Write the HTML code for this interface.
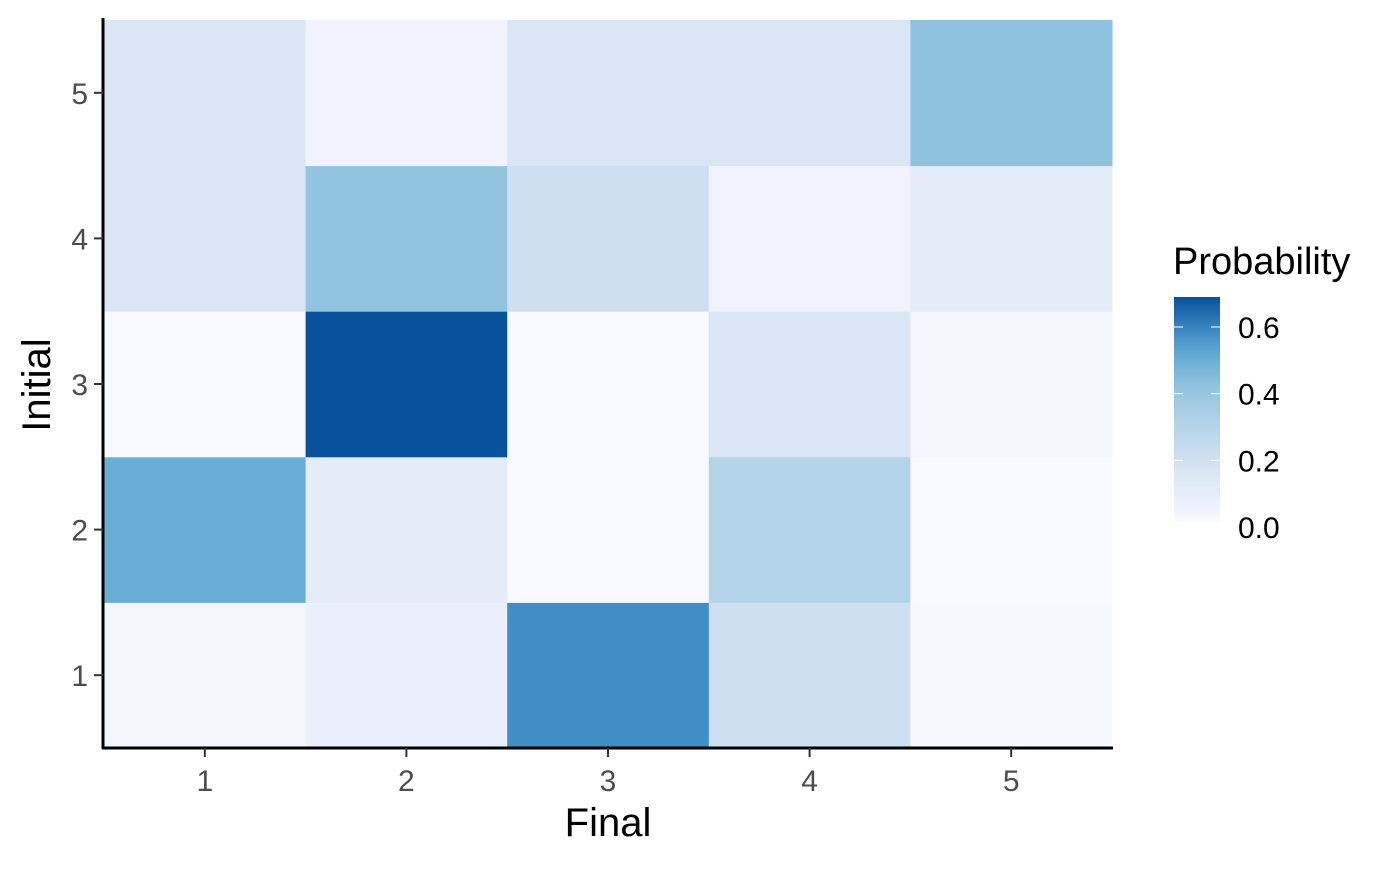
<!DOCTYPE html>
<html><head><meta charset="utf-8"><style>
body{margin:0;background:#fff;font-family:"Liberation Sans",Arial,sans-serif}
svg text{font-family:"Liberation Sans",Arial,sans-serif}
</style></head><body>
<svg id="chart" width="1400" height="865" xmlns="http://www.w3.org/2000/svg">
<defs><linearGradient id="lg" x1="0" y1="1" x2="0" y2="0"></linearGradient></defs>
<g id="cells"></g><g id="axes"></g><g id="legend"></g>
</svg>
<script>
const finalCats=[1,2,3,4,5];
const initialCats=[1,2,3,4,5];
// values[row=initial-1][col=final-1]
const row1=[0.02,0.07,0.58,0.20,0.015];
const row2=[0.50,0.10,0.01,0.30,0.01];
const row3=[0.01,0.69,0.01,0.15,0.02];
const row4=[0.15,0.41,0.20,0.03,0.10];
const row5=[0.15,0.03,0.15,0.15,0.42];
const legendTicks=[0.0,0.2,0.4,0.6];
const values=[row1,row2,row3,row4,row5];
const NS="http://www.w3.org/2000/svg";
const X0=104,X1=1112,Y0=20,Y1=748;
const cw=(X1-X0)/finalCats.length, ch=(Y1-Y0)/initialCats.length;
const xs=c=>X0+(finalCats.indexOf(c)+0.5)*cw;
const ys=r=>Y1-(initialCats.indexOf(r)+0.5)*ch;
const stops=[[0,'#fbfcff'],[0.03,'#f0f3fe'],[0.1,'#e4ecf9'],[0.15,'#dae6f5'],[0.2,'#cddff0'],[0.3,'#b3d3e8'],[0.41,'#93c4df'],[0.5,'#69aed6'],[0.58,'#418dc6'],[0.69,'#08519c']];
function hex(h){return [1,3,5].map(i=>parseInt(h.substr(i,2),16));}
function color(v){
 for(let i=1;i<stops.length;i++){if(v<=stops[i][0]){const a=stops[i-1],b=stops[i];const t=(v-a[0])/(b[0]-a[0]);const ca=hex(a[1]),cb=hex(b[1]);return 'rgb('+ca.map((x,k)=>Math.round(x+(cb[k]-x)*t)).join(',')+')';}}
 return stops[stops.length-1][1];}
function el(t,a,p){const e=document.createElementNS(NS,t);for(const k in a)e.setAttribute(k,a[k]);p.appendChild(e);return e;}
const cells=document.getElementById('cells');
initialCats.forEach((r,ri)=>finalCats.forEach((c,ci)=>{
 const e=el('rect',{x:xs(c)-cw/2,y:ys(r)-ch/2,width:cw+0.5,height:ch+0.5,fill:color(values[ri][ci])},cells);
 
 
}));
const ax=document.getElementById('axes');
el('line',{x1:103,y1:18,x2:103,y2:749,stroke:'#000','stroke-width':3},ax);
el('line',{x1:102,y1:748,x2:1113,y2:748,stroke:'#000','stroke-width':3},ax);
finalCats.forEach(c=>{
 el('line',{x1:xs(c),y1:748,x2:xs(c),y2:757,stroke:'#333','stroke-width':2},ax);
 const t=el('text',{x:xs(c),y:791,'text-anchor':'middle','font-size':30,fill:'#4d4d4d'},ax);t.textContent=c;
 
 
});
initialCats.forEach(r=>{
 el('line',{x1:94,y1:ys(r),x2:103,y2:ys(r),stroke:'#333','stroke-width':2},ax);
 const t=el('text',{x:88,y:ys(r)+11,'text-anchor':'end','font-size':30,fill:'#4d4d4d'},ax);t.textContent=r;
 
 
});
let t=el('text',{x:608,y:836,'text-anchor':'middle','font-size':40,fill:'#000'},ax);t.textContent='Final';


t=el('text',{x:50,y:385,'text-anchor':'middle','font-size':40,fill:'#000',transform:'rotate(-90 50 385)'},ax);t.textContent='Initial';


// legend
const lg=document.getElementById('legend');
const grad=document.getElementById('lg');
const vmax=0.69,vmin=0.0;
for(let i=0;i<=20;i++){const v=vmin+(vmax-vmin)*i/20;el('stop',{offset:(i/20),'stop-color':color(v)},grad);}
const LB=527,per=(527-327)/0.6;
const ly=v=>LB-v*per;
el('rect',{x:1174,y:ly(vmax),width:46,height:ly(0.015)-ly(vmax),fill:'url(#lg)'},lg);
legendTicks.forEach(v=>{
 el('line',{x1:1174,y1:ly(v),x2:1183,y2:ly(v),stroke:'#fff','stroke-width':1},lg);
 el('line',{x1:1211,y1:ly(v),x2:1220,y2:ly(v),stroke:'#fff','stroke-width':1},lg);
 const tt=el('text',{x:1238,y:ly(v)+11,'font-size':30,fill:'#000'},lg);tt.textContent=v.toFixed(1);
 
 
});
t=el('text',{x:1173,y:274,'font-size':38,fill:'#000'},lg);t.textContent='Probability';


</script>
</body></html>
